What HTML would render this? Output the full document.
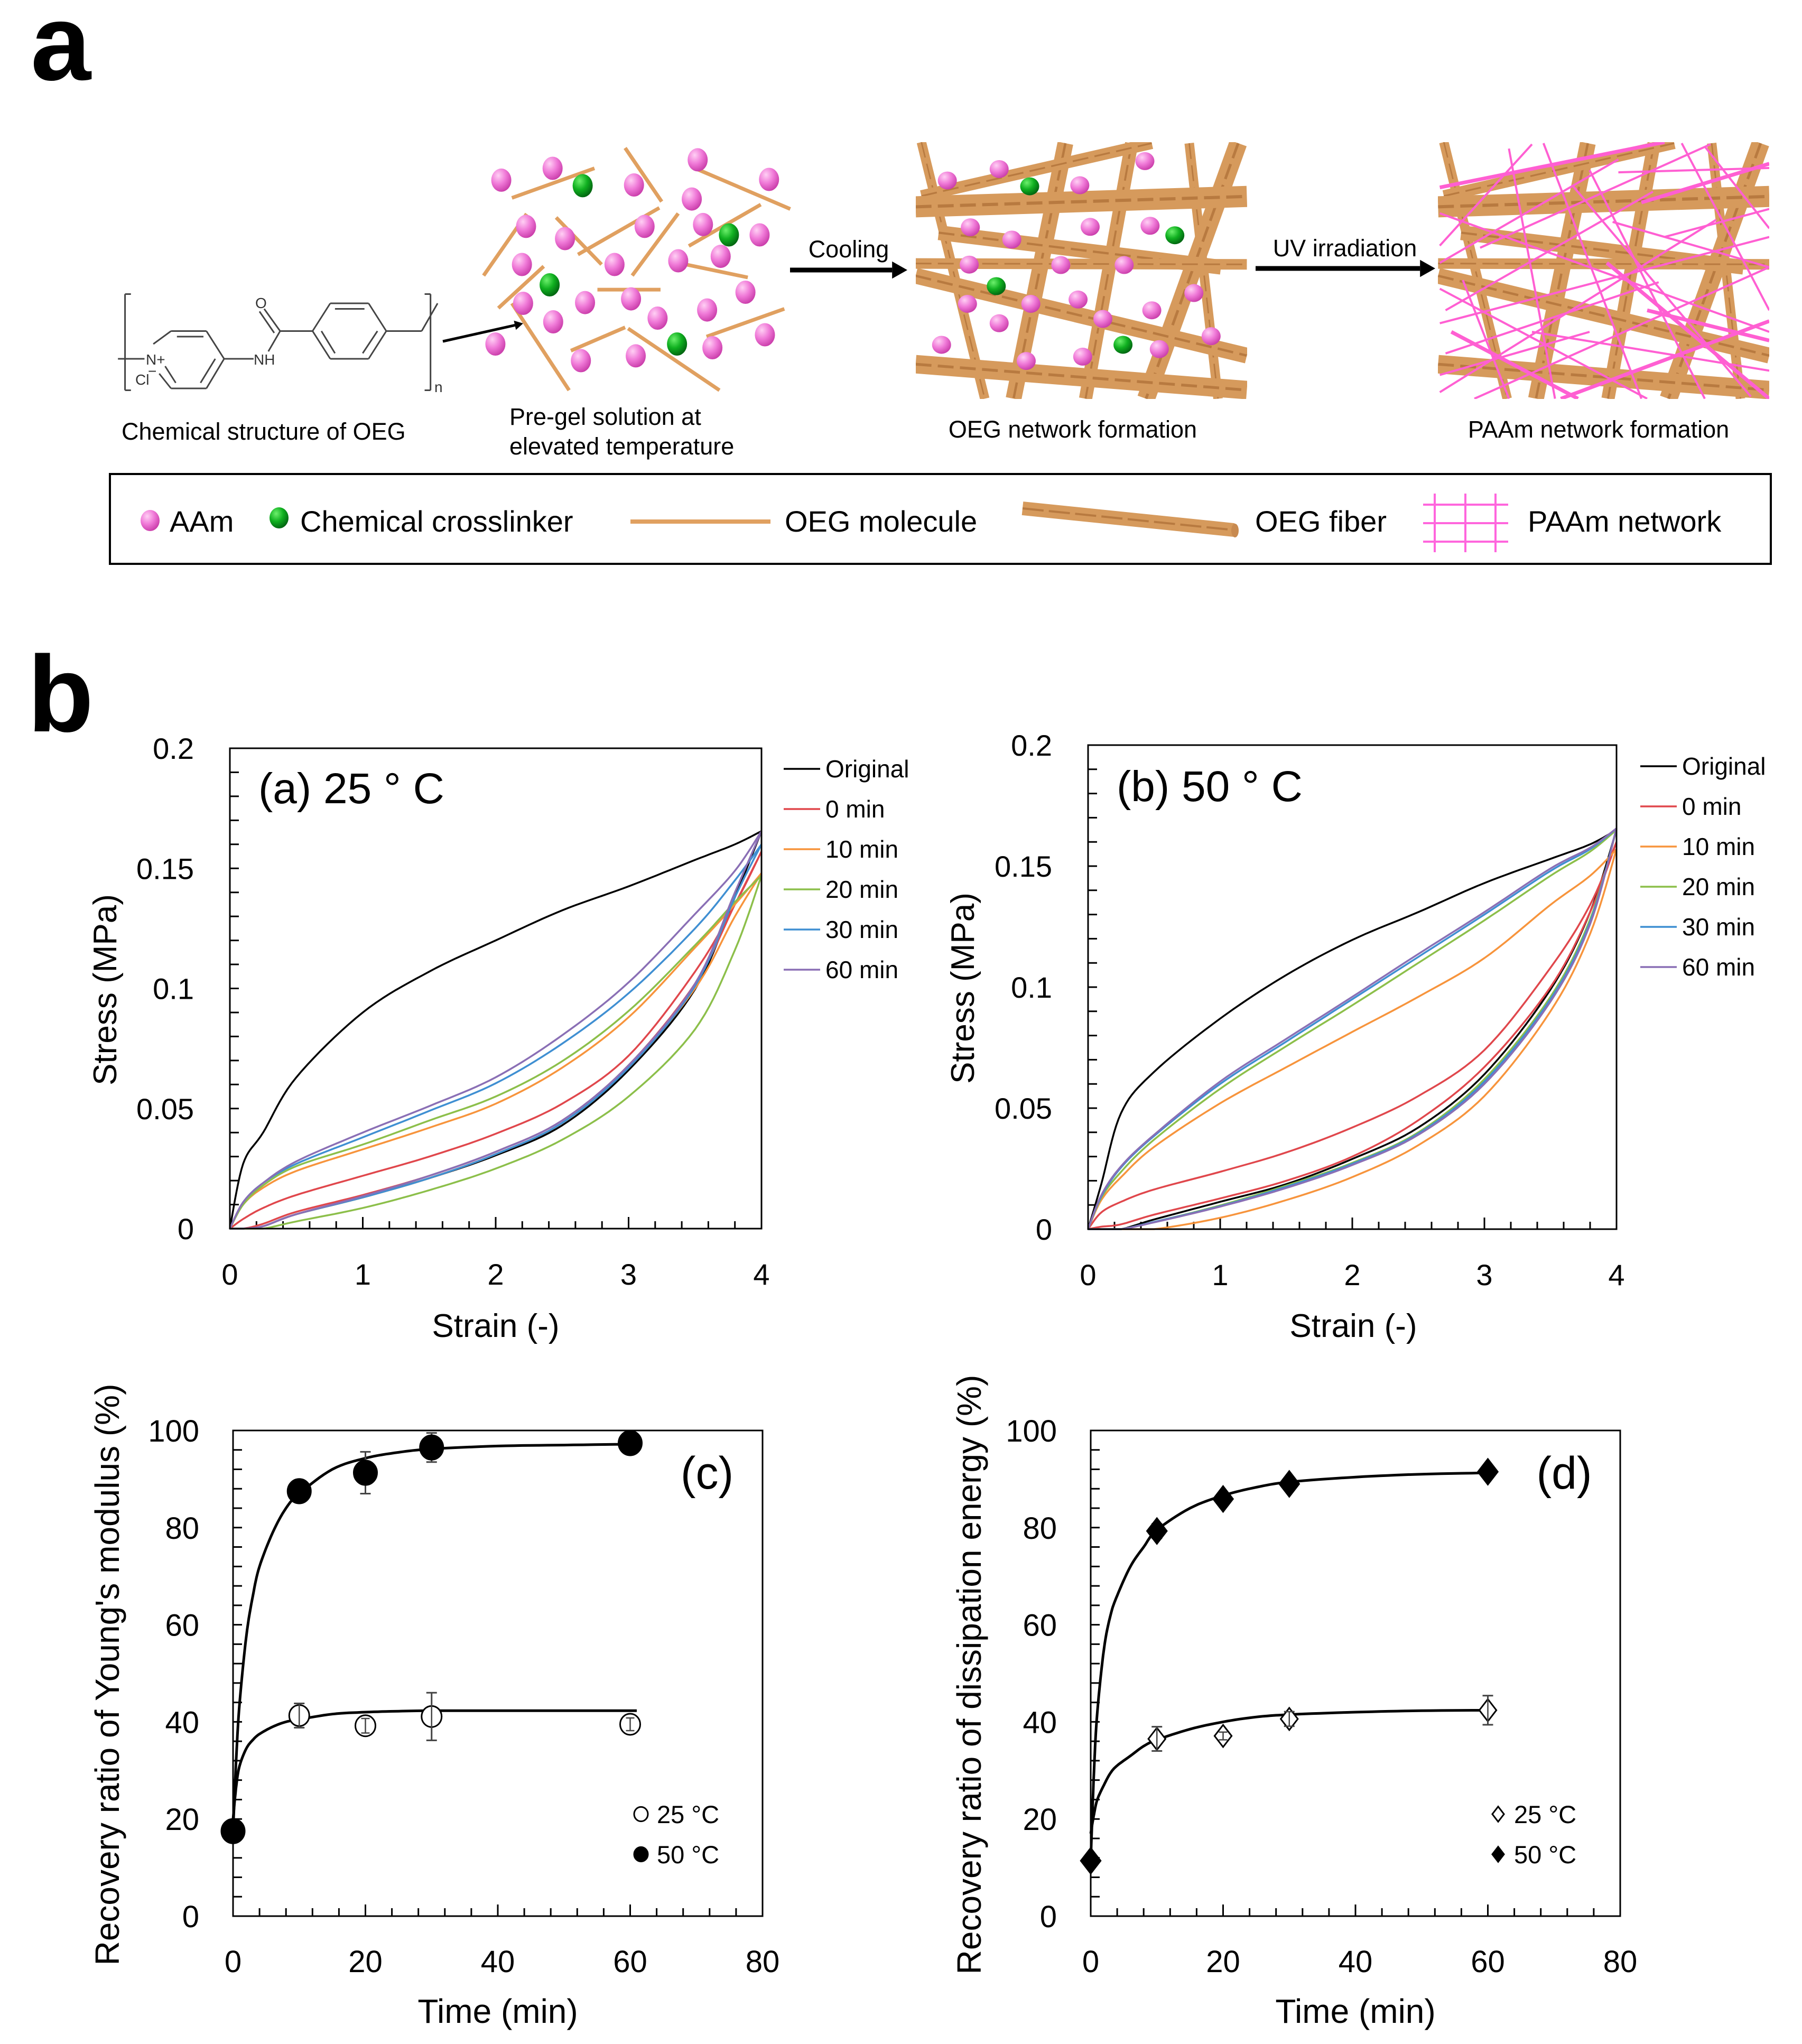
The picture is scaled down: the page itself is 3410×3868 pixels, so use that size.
<!DOCTYPE html>
<html><head><meta charset="utf-8"><title>OEG hydrogel figure</title>
<style>
html,body{margin:0;padding:0;background:#fff;}
svg{display:block;font-family:"Liberation Sans",sans-serif;}
</style></head>
<body>
<svg id="fig" xmlns="http://www.w3.org/2000/svg" width="3410" height="3868" viewBox="0 0 3410 3868">
<defs>
<radialGradient id="gPink" cx="0.35" cy="0.3" r="0.75"><stop offset="0" stop-color="#ffd0f4"/><stop offset="0.5" stop-color="#f07ad8"/><stop offset="1" stop-color="#c83aa8"/></radialGradient>
<radialGradient id="gGreen" cx="0.35" cy="0.3" r="0.75"><stop offset="0" stop-color="#6cf06c"/><stop offset="0.5" stop-color="#10b020"/><stop offset="1" stop-color="#006010"/></radialGradient>
<clipPath id="clipOEG"><rect x="1733" y="269" width="627" height="486"/></clipPath>
<clipPath id="clipPAAm"><rect x="2721" y="269" width="627" height="486"/></clipPath>
</defs>
<rect x="0" y="0" width="3410" height="3868" fill="#fff"/>

<text x="58" y="151" font-size="205" font-weight="bold">a</text>
<text x="52" y="1384" font-size="205" font-weight="bold">b</text>

<g id="schematic"></g>

<text x="230" y="832" font-size="45">Chemical structure of OEG</text>
<text x="964" y="804" font-size="45">Pre-gel solution at</text>
<text x="964" y="860" font-size="45">elevated temperature</text>
<text x="1606" y="487" font-size="45" text-anchor="middle">Cooling</text>
<text x="2545" y="485" font-size="45" text-anchor="middle">UV irradiation</text>
<text x="2030" y="828" font-size="45" text-anchor="middle">OEG network formation</text>
<text x="3025" y="828" font-size="45" text-anchor="middle">PAAm network formation</text>

<rect x="208" y="897" width="3143" height="170" fill="none" stroke="#000" stroke-width="4"/>
<text x="321" y="1006" font-size="56">AAm</text>
<text x="568" y="1006" font-size="56">Chemical crosslinker</text>
<text x="1485" y="1006" font-size="56">OEG molecule</text>
<text x="2375" y="1006" font-size="56">OEG fiber</text>
<text x="2891" y="1006" font-size="56">PAAm network</text>

<g id="charts"></g>

<text x="489" y="1520" font-size="82">(a) 25 ° C</text>
<text x="2113" y="1516" font-size="82">(b) 50 ° C</text>
<text x="1338" y="2817" font-size="86" text-anchor="middle">(c)</text>
<text x="2960" y="2817" font-size="86" text-anchor="middle">(d)</text>

<text transform="translate(220,1873) rotate(-90)" font-size="62" text-anchor="middle">Stress (MPa)</text>
<text transform="translate(1843,1870) rotate(-90)" font-size="62" text-anchor="middle">Stress (MPa)</text>
<text x="938" y="2530" font-size="62" text-anchor="middle">Strain (-)</text>
<text x="2561" y="2530" font-size="62" text-anchor="middle">Strain (-)</text>
<text transform="translate(225,3169) rotate(-90)" font-size="64" text-anchor="middle">Recovery ratio of Young's modulus (%)</text>
<text transform="translate(1856,3169) rotate(-90)" font-size="64" text-anchor="middle">Recovery ratio of dissipation energy (%)</text>
<text x="942" y="3828" font-size="64" text-anchor="middle">Time (min)</text>
<text x="2565" y="3828" font-size="64" text-anchor="middle">Time (min)</text>
</svg>

<script>
// ---------- chart data ----------
const strains = [0, 0.1, 0.25, 0.5, 1, 1.5, 2, 2.5, 3, 3.5, 3.8, 4];
const seriesNames = ["Original", "0 min", "10 min", "20 min", "30 min", "60 min"];
const stressTicks = [0, 0.05, 0.1, 0.15, 0.2];
const stressTickLabels = ["0", "0.05", "0.1", "0.15", "0.2"];
const strainTicks = [0, 1, 2, 3, 4];
const strainTickLabels = ["0", "1", "2", "3", "4"];

const aOriginalLoad = [0, 0.027, 0.040, 0.063, 0.090, 0.107, 0.120, 0.1325, 0.1425, 0.1535, 0.160, 0.1655];
const aOriginalUnload = [0, 0, 0.001, 0.006, 0.013, 0.021, 0.0305, 0.043, 0.066, 0.0997, 0.138, 0.1655];
const a0Load = [0, 0.004, 0.0086, 0.014, 0.022, 0.030, 0.0395, 0.052, 0.072, 0.107, 0.135, 0.157];
const a0Unload = [0, 0, 0.002, 0.007, 0.014, 0.022, 0.032, 0.045, 0.068, 0.102, 0.135, 0.157];
const a10Load = [0, 0.010, 0.017, 0.024, 0.033, 0.042, 0.052, 0.067, 0.088, 0.117, 0.135, 0.148];
const a10Unload = [0, 0, 0.001, 0.006, 0.013, 0.021, 0.031, 0.044, 0.067, 0.100, 0.130, 0.148];
const a20Load = [0, 0.010, 0.018, 0.026, 0.035, 0.045, 0.055, 0.0697, 0.0906, 0.118, 0.136, 0.147];
const a20Unload = [0, 0, 0, 0.003, 0.0086, 0.016, 0.025, 0.037, 0.055, 0.083, 0.116, 0.147];
const a30Load = [0, 0.011, 0.019, 0.027, 0.038, 0.049, 0.0605, 0.077, 0.098, 0.125, 0.145, 0.160];
const a30Unload = [0, 0, 0.001, 0.006, 0.013, 0.021, 0.031, 0.044, 0.067, 0.101, 0.138, 0.160];
const a60Load = [0, 0.011, 0.019, 0.028, 0.040, 0.051, 0.063, 0.0805, 0.1025, 0.131, 0.149, 0.1655];
const a60Unload = [0, 0, 0.001, 0.006, 0.0135, 0.022, 0.032, 0.045, 0.068, 0.102, 0.140, 0.1655];

const bOriginalLoad = [0, 0.0186, 0.048, 0.065, 0.087, 0.105, 0.1195, 0.131, 0.143, 0.153, 0.159, 0.165];
const bOriginalUnload = [0, 0, 0, 0.004, 0.0113, 0.0186, 0.029, 0.042, 0.064, 0.099, 0.131, 0.165];
const b0Load = [0, 0.0069, 0.0113, 0.0164, 0.0237, 0.0317, 0.042, 0.055, 0.074, 0.108, 0.134, 0.160];
const b0Unload = [0, 0.001, 0.002, 0.006, 0.0127, 0.020, 0.030, 0.045, 0.067, 0.100, 0.131, 0.160];
const b10Load = [0, 0.012, 0.0215, 0.034, 0.052, 0.0669, 0.0815, 0.096, 0.112, 0.134, 0.146, 0.157];
const b10Unload = [0, 0, 0, 0, 0.0047, 0.012, 0.0215, 0.0347, 0.055, 0.090, 0.122, 0.157];
const b20Load = [0, 0.013, 0.0237, 0.037, 0.058, 0.0756, 0.0925, 0.110, 0.1276, 0.146, 0.156, 0.165];
const b20Unload = [0, 0, 0, 0.003, 0.0098, 0.018, 0.0274, 0.040, 0.062, 0.096, 0.128, 0.165];
const b30Load = [0, 0.0135, 0.0255, 0.0385, 0.060, 0.0775, 0.095, 0.1125, 0.130, 0.148, 0.157, 0.1656];
const b30Unload = [0, 0, 0, 0.003, 0.0095, 0.0175, 0.027, 0.0395, 0.061, 0.095, 0.127, 0.1656];
const b60Load = [0, 0.014, 0.026, 0.039, 0.061, 0.0786, 0.096, 0.1137, 0.131, 0.149, 0.1576, 0.1656];
const b60Unload = [0, 0, 0, 0.0028, 0.0093, 0.017, 0.0265, 0.039, 0.060, 0.094, 0.126, 0.1656];

const recTicks = [0, 20, 40, 60, 80, 100];
const recTickLabels = ["0", "20", "40", "60", "80", "100"];
const timeTicks = [0, 20, 40, 60, 80];
const timeTickLabels = ["0", "20", "40", "60", "80"];

const c50Times = [0, 10, 20, 30, 60];
const c50Values = [17.5, 87.5, 91.3, 96.5, 97.4];
const c50Err = [0, 1, 4.3, 3, 1.5];
const c25Times = [10, 20, 30, 60];
const c25Values = [41.3, 39.2, 41.1, 39.5];
const c25Err = [2.5, 1.5, 4.9, 1.3];
const fitTimes = [0, 0.5, 1, 2, 3, 4, 6, 8, 10, 15, 20, 25, 30, 40, 50, 61];
const c50Fit = [17.5, 33, 44, 57.6, 66, 72, 79, 84, 87, 92, 94.3, 95.5, 96.2, 96.8, 97, 97.2];
const c25Fit = [20, 27, 31, 34.5, 36.3, 37.5, 39, 40, 40.5, 41.6, 42, 42.2, 42.3, 42.3, 42.3, 42.3];

const d50Times = [0, 10, 20, 30, 60];
const d50Values = [11.4, 79.3, 85.9, 89, 91.5];
const d50Err = [0, 1.5, 1.2, 1.2, 1];
const d25Times = [10, 20, 30, 60];
const d25Values = [36.5, 37.1, 40.6, 42.4];
const d25Err = [2.5, 0.8, 1.5, 3];
const d50Fit = [11.4, 30, 42, 55, 62, 66, 72, 76, 79.5, 84, 86.6, 88.3, 89.4, 90.4, 91, 91.3];
const d25Fit = [17, 21, 24, 27, 29.5, 31, 33, 35, 36.3, 38.5, 40, 41, 41.5, 42, 42.3, 42.4];

const seriesColors = ["#000000", "#e0474c", "#f7943c", "#8cbf4a", "#3f8fd2", "#8a6fb5"];

// ---------- helpers ----------
const NS = "http://www.w3.org/2000/svg";
function mk(tag, attrs, parent) {
  const e = document.createElementNS(NS, tag);
  for (const k in attrs) e.setAttribute(k, attrs[k]);
  parent.appendChild(e);
  return e;
}
function catmull(pts, steps) {
  const out = [];
  for (let i = 0; i < pts.length - 1; i++) {
    const p0 = pts[i - 1] || pts[i], p1 = pts[i], p2 = pts[i + 1], p3 = pts[i + 2] || pts[i + 1];
    for (let s = 0; s < steps; s++) {
      const t = s / steps, t2 = t * t, t3 = t2 * t;
      const f = (a, b, c, d) => 0.5 * ((2 * b) + (-a + c) * t + (2 * a - 5 * b + 4 * c - d) * t2 + (-a + 3 * b - 3 * c + d) * t3);
      out.push([f(p0[0], p1[0], p2[0], p3[0]), f(p0[1], p1[1], p2[1], p3[1])]);
    }
  }
  out.push(pts[pts.length - 1]);
  return out;
}
const charts = document.getElementById("charts");

// ---------- stress-strain charts ----------
function stressChart(id, box, loads, unloads, legendX, legendY0) {
  const g = mk("g", {}, charts);
  
  
  const xS = s => box.l + s / 4 * (box.r - box.l);
  const yS = v => box.b - v / 0.2 * (box.b - box.t);
  for (let k = 1; k < 20; k++) {
    const y = yS(k * 0.01);
    const t = mk("line", {x1: box.l, x2: box.l + 17, y1: y, y2: y, stroke: "#000", "stroke-width": 3}, g);
    
    
  }
  for (let k = 1; k < 20; k++) {
    const x = xS(k * 0.2);
    const len = k % 5 === 0 ? 22 : 14;
    const t = mk("line", {x1: x, x2: x, y1: box.b, y2: box.b - len, stroke: "#000", "stroke-width": 3}, g);
    
    
  }
  stressTicks.forEach((v, i) => {
    const t = mk("text", {x: box.l - 68, y: yS(v) + 20, "font-size": 56, "text-anchor": "end"}, g);
    t.textContent = stressTickLabels[i];
    
    
  });
  strainTicks.forEach((v, i) => {
    const t = mk("text", {x: xS(v), y: box.b + 106, "font-size": 56, "text-anchor": "middle"}, g);
    t.textContent = strainTickLabels[i];
    
    
  });
  for (let si = 0; si < loads.length; si++) {
    [loads[si], unloads[si]].forEach((arr, j) => {
      const pts = catmull(strains.map((s, i) => [s, arr[i]]), 10).map(p => [xS(Math.max(0, Math.min(4, p[0]))), yS(Math.max(0, p[1]))]);
      const p = mk("polyline", {points: pts.map(q => q[0].toFixed(1) + "," + q[1].toFixed(1)).join(" "), fill: "none", stroke: seriesColors[si], "stroke-width": 3.5, "stroke-linejoin": "round"}, g);
      
      
    });
  }
  const fr = mk("rect", {x: box.l, y: box.t, width: box.r - box.l, height: box.b - box.t, fill: "none", stroke: "#000", "stroke-width": 3}, g);
  
  
  seriesNames.forEach((n, i) => {
    const y = legendY0 + i * 76;
    const l = mk("line", {x1: legendX, x2: legendX + 69, y1: y, y2: y, stroke: seriesColors[i], "stroke-width": 3.5}, g);
    
    
    const t = mk("text", {x: legendX + 79, y: y + 16, "font-size": 46}, g);
    t.textContent = n;
    
    
  });
}
stressChart('a', {l: 435, r: 1441, t: 1416, b: 2325},
  [aOriginalLoad, a0Load, a10Load, a20Load, a30Load, a60Load],
  [aOriginalUnload, a0Unload, a10Unload, a20Unload, a30Unload, a60Unload], 1483, 1455);
stressChart('b', {l: 2059, r: 3059, t: 1410, b: 2326},
  [bOriginalLoad, b0Load, b10Load, b20Load, b30Load, b60Load],
  [bOriginalUnload, b0Unload, b10Unload, b20Unload, b30Unload, b60Unload], 3104, 1450);

// ---------- recovery charts ----------
function marker(g, shape, filled, x, y, r) {
  let m;
  if (shape === "circle") {
    m = mk("ellipse", {cx: x, cy: y, rx: r, ry: r * 1.05, fill: filled ? "#000" : "#fff", stroke: "#000", "stroke-width": 3}, g);
  } else {
    m = mk("polygon", {points: [[x, y - r * 1.1], [x + r * 0.85, y], [x, y + r * 1.1], [x - r * 0.85, y]].map(p => p.join(",")).join(" "), fill: filled ? "#000" : "#fff", stroke: "#000", "stroke-width": 3}, g);
  }
  return m;
}
function recChart(id, box, shape, t50, v50, e50, t25, v25, e25, f50, f25, legX) {
  const g = mk("g", {}, charts);
  
  
  const xS = t => box.l + t / 80 * (box.r - box.l);
  const yS = v => box.b - v / 100 * (box.b - box.t);
  for (let k = 1; k < 25; k++) {
    const y = yS(k * 4);
    const t = mk("line", {x1: box.l, x2: box.l + 17, y1: y, y2: y, stroke: "#000", "stroke-width": 3}, g);
    
    
  }
  for (let k = 1; k < 20; k++) {
    const x = xS(k * 4);
    const len = k % 5 === 0 ? 22 : 15;
    const t = mk("line", {x1: x, x2: x, y1: box.b, y2: box.b - len, stroke: "#000", "stroke-width": 3}, g);
    
    
  }
  recTicks.forEach((v, i) => {
    const t = mk("text", {x: box.l - 64, y: yS(v) + 21, "font-size": 58, "text-anchor": "end"}, g);
    t.textContent = recTickLabels[i];
    
    
  });
  timeTicks.forEach((v, i) => {
    const t = mk("text", {x: xS(v), y: box.b + 106, "font-size": 58, "text-anchor": "middle"}, g);
    t.textContent = timeTickLabels[i];
    
    
  });
  [f50, f25].forEach((f, j) => {
    const pts = catmull(fitTimes.map((t, i) => [t, f[i]]), 8).map(p => [xS(p[0]), yS(p[1])]);
    const p = mk("polyline", {points: pts.map(q => q[0].toFixed(1) + "," + q[1].toFixed(1)).join(" "), fill: "none", stroke: "#000", "stroke-width": 5}, g);
    
    
  });
  const drawSet = (ts, vs, es, filled, nm) => {
    ts.forEach((t, i) => {
      const x = xS(t), y = yS(vs[i]);
      if (es[i] > 0) {
        const eb = mk("path", {d: `M${x},${yS(vs[i] - es[i])}V${yS(vs[i] + es[i])}M${x - 10},${yS(vs[i] - es[i])}h20M${x - 10},${yS(vs[i] + es[i])}h20`, stroke: "#444", "stroke-width": 3, fill: "none"}, g);
        
        
      }
      const m = marker(g, shape, filled, x, y, filled ? 22 : 19);
      
      
      if (!filled && es[i] > 0) {
        const eb2 = mk("path", {d: `M${x},${yS(vs[i] - es[i])}V${yS(vs[i] + es[i])}M${x - 8},${yS(vs[i] - es[i])}h16M${x - 8},${yS(vs[i] + es[i])}h16`, stroke: "#444", "stroke-width": 2.5, fill: "none"}, g);
        
        
      }
    });
  };
  drawSet(t25, v25, e25, false, '25c');
  drawSet(t50, v50, e50, true, '50c');
  const fr = mk("rect", {x: box.l, y: box.t, width: box.r - box.l, height: box.b - box.t, fill: "none", stroke: "#000", "stroke-width": 3}, g);
  
  
  [["25 °C", false, 3433], ["50 °C", true, 3509]].forEach(([lab, filled, y]) => {
    const m = marker(g, shape, filled, legX, y, 13);
    
    
    const t = mk("text", {x: legX + 30, y: y + 17, "font-size": 47}, g);
    t.textContent = lab;
    
    
  });
}
recChart('c', {l: 441, r: 1443, t: 2707, b: 3626}, "circle", c50Times, c50Values, c50Err, c25Times, c25Values, c25Err, c50Fit, c25Fit, 1213);
recChart('d', {l: 2064, r: 3066, t: 2707, b: 3626}, "diamond", d50Times, d50Values, d50Err, d25Times, d25Values, d25Err, d50Fit, d25Fit, 2835);

// ---------- schematic (panel a) ----------
const sch = document.getElementById("schematic");
const Z6 = (x, y) => [x * 1.116, y * 0.7];
const chemSegs = [
  [[290,895],[350,895]],[[350,895],[380,970]],[[380,970],[350,1050]],[[350,1050],[290,1050]],[[290,1050],[270,1010]],[[260,930],[290,895]],
  [[300,910],[345,910]],[[365,970],[340,1035]],[[280,990],[298,1035]],
  [[560,820],[625,820]],[[625,820],[655,895]],[[655,895],[625,970]],[[625,970],[560,970]],[[560,970],[530,895]],[[530,895],[560,820]],
  [[568,835],[618,835]],[[640,895],[615,955]],[[545,895],[568,955]],
  [[200,970],[245,970]],[[380,970],[430,970]],[[455,950],[475,895]],[[475,895],[530,895]],[[475,895],[448,835]],[[465,900],[440,842]],
  [[655,895],[715,895]],[[715,895],[742,820]],
  [[222,795],[212,795]],[[212,795],[212,1055]],[[212,1055],[222,1055]],
  [[720,795],[730,795]],[[730,795],[730,1055]],[[730,1055],[720,1055]]
];
chemSegs.forEach(s => {
  const a = Z6(s[0][0], s[0][1]), b = Z6(s[1][0], s[1][1]);
  const l = mk("line", {x1: a[0], y1: a[1], x2: b[0], y2: b[1], stroke: "#444", "stroke-width": 3}, sch);
  
  
});
[["N+", 276, 690], ["NH", 480, 690], ["O", 483, 583], ["Cl", 256, 728], ["−", 280, 712], ["n", 822, 742]].forEach(([s, x, y]) => {
  const t = mk("text", {x: x, y: y, "font-size": 28, fill: "#333"}, sch);
  t.textContent = s;
  
  
});
function arrow(x1, y1, x2, y2, w, nm) {
  const ang = Math.atan2(y2 - y1, x2 - x1), hl = w * 3.2, hw = w * 1.8;
  const bx = x2 - hl * Math.cos(ang), by = y2 - hl * Math.sin(ang);
  const l = mk("line", {x1: x1, y1: y1, x2: bx, y2: by, stroke: "#000", "stroke-width": w}, sch);
  
  
  const h = mk("polygon", {points: `${x2},${y2} ${bx + hw * Math.sin(ang)},${by - hw * Math.cos(ang)} ${bx - hw * Math.sin(ang)},${by + hw * Math.cos(ang)}`, fill: "#000"}, sch);
  
  
}
arrow(838, 646, 990, 612, 5, 'structure-arrow');
arrow(1495, 511, 1717, 511, 9, 'cooling-arrow');
arrow(2376, 508, 2716, 508, 9, 'uv-arrow');

const preSticks = [[868,535,1008,455],[1060,400,1122,545],[1183,458,1340,565],[820,745,893,578],[943,588,1020,715],[980,688,1118,562],[1072,745,1150,577],[1168,665,1290,553],[1163,715,1268,750],[845,833,922,720],[1013,783,1120,783],[868,820,965,1055],[968,948,1060,885],[1065,888,1220,1055],[1198,910,1330,835]];
preSticks.forEach(s => {
  const a = Z6(s[0], s[1]), b = Z6(s[2], s[3]);
  const l = mk("line", {x1: a[0], y1: a[1], x2: b[0], y2: b[1], stroke: "#e0a060", "stroke-width": 7}, sch);
  
  
});
const prePink = [[850,487],[937,455],[1075,500],[1183,432],[1304,485],[1173,538],[892,612],[958,645],[1093,612],[1192,607],[1288,635],[885,715],[1042,715],[1150,705],[1222,693],[1264,790],[887,820],[992,818],[1070,808],[1199,838],[938,870],[1115,860],[1297,905],[840,930],[985,975],[1078,962],[1208,940]];
const preGreen = [[988,502],[1236,635],[932,770],[1148,930]];
prePink.forEach(p => {
  const c = Z6(p[0], p[1]);
  const e = mk("ellipse", {cx: c[0], cy: c[1], rx: 19, ry: 22, fill: "url(#gPink)"}, sch);
  
  
});
preGreen.forEach(p => {
  const c = Z6(p[0], p[1]);
  const e = mk("ellipse", {cx: c[0], cy: c[1], rx: 19, ry: 22, fill: "url(#gGreen)"}, sch);
  
  
});

const Z3 = (x, y) => [1700 + x * 1.09, 220 + y * 0.408];
const fibers = [
  [40,120,150,1310,18],[290,125,200,1310,30],[405,125,325,1310,25],[505,125,555,1310,18],[590,125,430,1310,34],
  [40,370,440,125,22],[30,420,605,372,40],[70,540,560,700,28],[30,683,605,687,20],[30,740,605,1110,30],[30,1150,605,1270,35]
];
function drawFibers(dx, clip, nm) {
  const g = mk("g", {"clip-path": "url(#" + clip + ")"}, sch);
  
  
  fibers.forEach(f => {
    const a = Z3(f[0] + dx, f[1]), b = Z3(f[2] + dx, f[3]);
    const l = mk("line", {x1: a[0], y1: a[1], x2: b[0], y2: b[1], stroke: "#d69a5c", "stroke-width": f[4]}, g);
    
    
    const l2 = mk("line", {x1: a[0], y1: a[1], x2: b[0], y2: b[1], stroke: "#b87a40", "stroke-width": Math.max(2, f[4] * 0.15), "stroke-dasharray": "30 12"}, g);
    
    
  });
  return g;
}
const gO = drawFibers(0, "clipOEG", "oeg-network");
const oegPink = [[85,298],[175,245],[315,320],[428,208],[125,515],[333,513],[437,508],[197,572],[123,688],[282,690],[392,690],[120,870],[230,870],[312,850],[440,900],[513,820],[175,960],[355,940],[75,1060],[222,1135],[320,1115],[453,1080],[543,1020]];
const oegGreen = [[228,325],[480,552],[170,788],[390,1060]];
oegPink.forEach(p => {
  const c = Z3(p[0], p[1]);
  const e = mk("ellipse", {cx: c[0], cy: c[1], rx: 18, ry: 17, fill: "url(#gPink)"}, gO);
  
  
});
oegGreen.forEach(p => {
  const c = Z3(p[0], p[1]);
  const e = mk("ellipse", {cx: c[0], cy: c[1], rx: 18, ry: 17, fill: "url(#gGreen)"}, gO);
  
  
});
const gP = drawFibers(907, "clipPAAm", "paam-network");
const paamLines = [[940,330,1330,120],[940,680,1250,200],[950,900,1310,350],[940,1280,1420,480],[1000,1310,1512,700],[1150,1310,1512,950],[940,600,1100,130],[1120,125,1290,1310],[1200,250,1400,1310],[1360,125,1512,900],[1290,400,1512,220],[1240,490,1512,700],[940,960,1512,560],[950,1100,1320,770],[980,760,1060,1310],[1230,680,1512,1310],[940,450,1512,1000],[1100,1000,1512,1180],[1400,140,1512,520],[1060,150,1140,1310],[1300,900,1512,1040],[940,1200,1200,1000],[1330,560,1512,430],[1170,320,1480,1300],[1010,610,1410,130],[960,1000,1180,1310],[1250,260,1512,240],[940,800,1300,1310]];
paamLines.forEach((s, i) => {
  const a = Z3(s[0], s[1]), b = Z3(s[2], s[3]);
  const l = mk("line", {x1: a[0], y1: a[1], x2: b[0], y2: b[1], stroke: "#ff5fd2", "stroke-width": i % 5 === 0 ? 7 : 4}, gP);
  
  
});

const lg1 = mk("ellipse", {cx: 284, cy: 985, rx: 18, ry: 20, fill: "url(#gPink)"}, sch);


const lg2 = mk("ellipse", {cx: 528, cy: 980, rx: 18, ry: 20, fill: "url(#gGreen)"}, sch);


const lg3 = mk("line", {x1: 1193, y1: 987, x2: 1458, y2: 987, stroke: "#e0a060", "stroke-width": 8}, sch);


const lg4 = mk("line", {x1: 1935, y1: 962, x2: 2335, y2: 1003, stroke: "#d69a5c", "stroke-width": 26}, sch);


const lg5 = mk("line", {x1: 1935, y1: 962, x2: 2335, y2: 1003, stroke: "#b87a40", "stroke-width": 4, "stroke-dasharray": "40 10"}, sch);


const lg6 = mk("ellipse", {cx: 2337, cy: 1004, rx: 7, ry: 13, fill: "#c88a50"}, sch);


const gridD = "M2715,934V1045M2773,934V1045M2830,934V1045M2693,955H2854M2693,990H2854M2693,1025H2854";
const lg7 = mk("path", {d: gridD, stroke: "#ff66dd", "stroke-width": 4, fill: "none"}, sch);


</script>
</body></html>
